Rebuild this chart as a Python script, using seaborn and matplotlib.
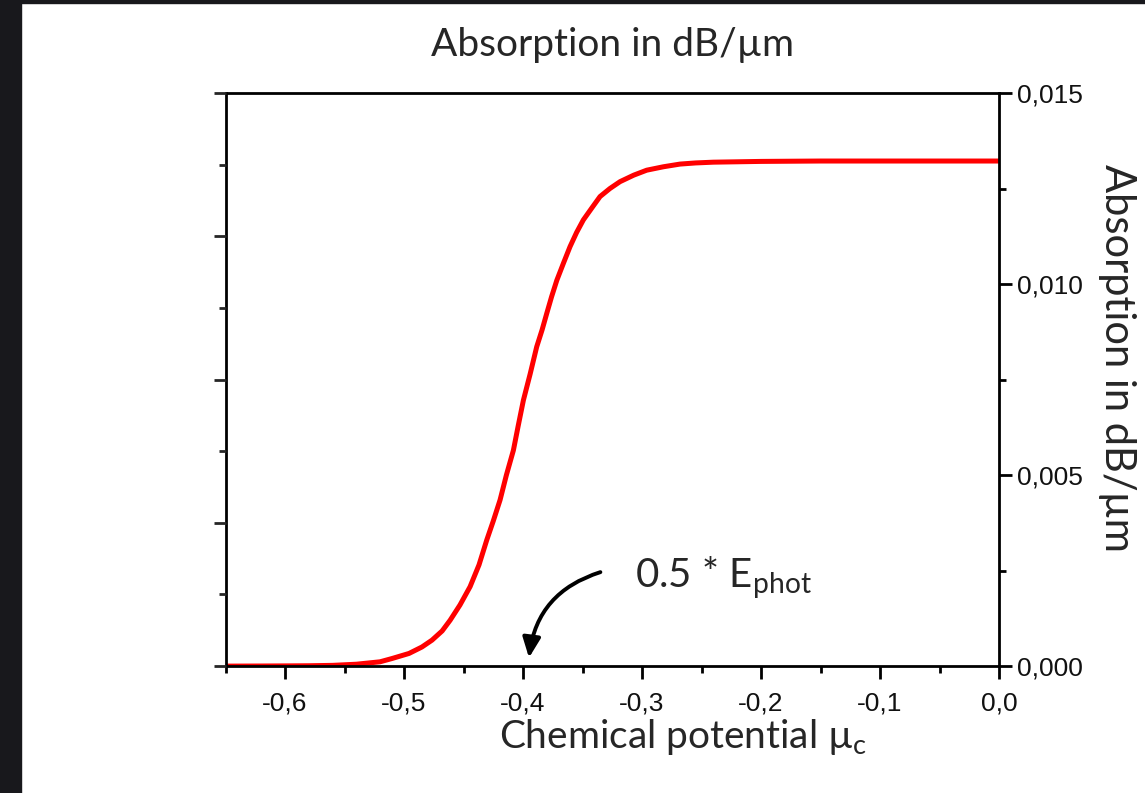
import numpy as np
import matplotlib
matplotlib.use("Agg")
import matplotlib.pyplot as plt
from matplotlib.patches import Rectangle
from matplotlib.ticker import FixedLocator, FuncFormatter
import seaborn as sns

# Data
mu_c = [-0.65, -0.62, -0.60, -0.58, -0.56, -0.54, -0.5202, -0.51, -0.4958, -0.485,
        -0.4765, -0.468, -0.4613, -0.453, -0.4445, -0.437, -0.4305, -0.425, -0.4193,
        -0.414, -0.4081, -0.404, -0.3997, -0.394, -0.3885, -0.384, -0.3800, -0.376,
        -0.3716, -0.366, -0.3605, -0.355, -0.3493, -0.342, -0.3353, -0.327, -0.3185,
        -0.307, -0.2961, -0.282, -0.2681, -0.255, -0.24, -0.22, -0.20,
        -0.15, -0.10, -0.05, 0.0]
absorption = [0.0, 0.000003, 0.000006, 0.00001, 0.00002, 0.00005, 0.000113, 0.00020,
              0.000332, 0.00050, 0.00068, 0.00092, 0.00120, 0.00160, 0.00208, 0.00265,
              0.00330, 0.00380, 0.00435, 0.00500, 0.00565, 0.00630, 0.00696, 0.00765,
              0.00836, 0.00880, 0.00924, 0.00967, 0.01010, 0.01055, 0.01098, 0.01135,
              0.01168, 0.01200, 0.01229, 0.01250, 0.01268, 0.01285, 0.01298, 0.01307,
              0.01314, 0.01317, 0.01319, 0.01320, 0.01321, 0.01322, 0.01322, 0.01322,
              0.01322]

x_major = [-0.6, -0.5, -0.4, -0.3, -0.2, -0.1, 0.0]
x_minor = [-0.65, -0.55, -0.45, -0.35, -0.25, -0.15, -0.05]
y_right_major = [0.0, 0.005, 0.010, 0.015]
y_right_minor = [0.0025, 0.0075, 0.0125]
y_left_major = [0.0, 0.00375, 0.0075, 0.01125, 0.015]
y_left_minor = [0.001875, 0.005625, 0.009375, 0.013125]

title_text = "Absorption in dB/µm"
xlabel_text = "Chemical potential µ$_\\mathrm{c}$"
ylabel_text = "Absorption in dB/µm"
annot_text = "0.5 * E$_\\mathrm{phot}$"

sns.set_theme(style="ticks")
plt.rcParams['font.family'] = ['Liberation Sans', 'DejaVu Sans']
plt.rcParams['mathtext.fontset'] = 'custom'
plt.rcParams['mathtext.rm'] = 'Lato'
plt.rcParams['mathtext.it'] = 'Lato:italic'

fig = plt.figure(figsize=(11.45, 7.93), dpi=100)
fig.patch.set_facecolor("white")
# dark screenshot borders
fig.add_artist(Rectangle((0, 0), 21 / 1145, 1, transform=fig.transFigure,
                         color="#18181c", zorder=0))
fig.add_artist(Rectangle((0, 1 - 3 / 793), 1, 3 / 793, transform=fig.transFigure,
                         color="#18181c", zorder=0))

ax = fig.add_axes([0.197, 0.160, 0.6755, 0.7227])
sns.lineplot(x=mu_c, y=absorption, color="red", linewidth=3.6, ax=ax)

ax.set_xlim(-0.65, 0.0)
ax.set_ylim(0.0, 0.015)

lw = 2.0

# left unlabeled axis with its own tick spacing
axL = ax.twinx()
axL.set_ylim(0.0, 0.015)
axL.yaxis.set_ticks_position("left")
axL.yaxis.set_major_locator(FixedLocator(y_left_major))
axL.yaxis.set_minor_locator(FixedLocator(y_left_minor))
axL.tick_params(axis="y", which="major", direction="out", length=9, width=lw,
                labelleft=False, labelright=False, left=True, right=False)
axL.tick_params(axis="y", which="minor", direction="out", length=5, width=lw,
                left=True, right=False)
for s in axL.spines.values():
    s.set_visible(False)

for s in ax.spines.values():
    s.set_visible(True)
    s.set_linewidth(lw)
    s.set_color("black")

ax.xaxis.set_major_locator(FixedLocator(x_major))
ax.xaxis.set_minor_locator(FixedLocator(x_minor))
ax.xaxis.set_major_formatter(FuncFormatter(lambda v, p: f"{v:.1f}".replace(".", ",").replace("-0,0", "0,0")))

ax.yaxis.set_ticks_position("right")
ax.yaxis.set_label_position("right")
ax.yaxis.set_major_locator(FixedLocator(y_right_major))
ax.yaxis.set_minor_locator(FixedLocator(y_right_minor))
ax.yaxis.set_major_formatter(FuncFormatter(lambda v, p: f"{v:.3f}".replace(".", ",")))

ax.tick_params(axis="both", which="major", direction="out", length=9, width=lw,
               labelsize=19, color="black", labelcolor="#111111")
ax.tick_params(axis="both", which="minor", direction="out", length=5, width=lw, color="black")
ax.tick_params(axis="y", which="both", left=False, right=True, labelleft=False, labelright=True)
ax.tick_params(axis="x", which="both", top=False, bottom=True)
ax.tick_params(axis="x", which="major", pad=9)
ax.tick_params(axis="y", which="major", pad=4)

ax.set_title(title_text, family="Lato", fontsize=28, pad=27)
ax.set_xlabel(xlabel_text, family="Lato", fontsize=28)
ax.xaxis.set_label_coords(0.591, -0.088)
ax.set_ylabel(ylabel_text, family="Lato", fontsize=30, rotation=270)
ax.yaxis.set_label_coords(1.177, 0.538)

ax.annotate("", xy=(-0.395, 0.00022), xytext=(-0.335, 0.00246),
            arrowprops=dict(arrowstyle="-|>,head_length=1.0,head_width=0.45", color="black",
                            lw=2.8, shrinkA=0, shrinkB=0, connectionstyle="arc3,rad=0.32"))
ax.text(-0.306, 0.00232, annot_text, family="Lato", fontsize=29, va="center", ha="left")

fig.savefig("out.png", dpi=100)
